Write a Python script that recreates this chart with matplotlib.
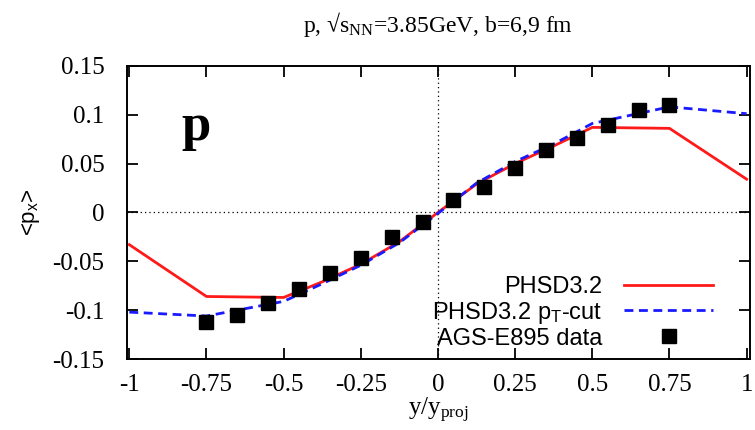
import matplotlib
matplotlib.use("Agg")
import matplotlib.pyplot as plt

# PHSD3.2 model curves (rapidity grid)
y_model = [-1.0, -0.75, -0.5, -0.375, -0.25, -0.125, 0.0, 0.125, 0.25, 0.375, 0.5, 0.75, 1.0]
px_phsd = [-0.033, -0.086, -0.087, -0.071, -0.053, -0.030, 0.000, 0.029, 0.050, 0.068, 0.087, 0.086, 0.034]
px_phsd_ptcut = [-0.102, -0.106, -0.091, -0.073, -0.054, -0.031, -0.001, 0.030, 0.052, 0.070, 0.091, 0.108, 0.101]

# AGS-E895 measured points
y_data = [-0.75, -0.65, -0.55, -0.45, -0.35, -0.25, -0.15, -0.05,
          0.05, 0.15, 0.25, 0.35, 0.45, 0.55, 0.65, 0.75]
px_data = [-0.112, -0.105, -0.093, -0.078, -0.062, -0.047, -0.025, -0.010,
           0.013, 0.026, 0.045, 0.064, 0.076, 0.089, 0.105, 0.110]

x_ticks = [-1, -0.75, -0.5, -0.25, 0, 0.25, 0.5, 0.75, 1]
x_ticklabels = ["-1", "-0.75", "-0.5", "-0.25", "0", "0.25", "0.5", "0.75", "1"]
y_ticks = [-0.15, -0.1, -0.05, 0, 0.05, 0.1, 0.15]
y_ticklabels = ["-0.15", "-0.1", "-0.05", "0", "0.05", "0.1", "0.15"]

SERIF = "Liberation Serif"
SANS = "Liberation Sans"

plt.rcParams["mathtext.fontset"] = "custom"
plt.rcParams["mathtext.rm"] = SERIF
plt.rcParams["mathtext.sf"] = SANS
plt.rcParams["mathtext.it"] = SERIF + ":italic"

fig = plt.figure(figsize=(7.55, 4.30), dpi=100)
ax = fig.add_axes([0.168, 0.165, 0.825, 0.682])

ax.axhline(0, color="black", lw=0.9, ls=(0, (1, 2.5)), zorder=1)
ax.axvline(0, color="black", lw=0.9, ls=(0, (1, 2.5)), zorder=1)

ax.plot(y_model, px_phsd, color="#ff1a1a", lw=2.0, zorder=2, label="PHSD3.2")
ax.plot(y_model, px_phsd_ptcut, color="#1a1aff", lw=2.0, dashes=(3.2, 2.0), zorder=3,
        label=r"PHSD3.2 p$_{\mathsf{T}}$-cut")
ax.plot(y_data, px_data, ls="none", marker="s", ms=9.5, color="black", zorder=4,
        label="AGS-E895 data")

ax.set_xlim(-1.008, 1.01)
ax.set_ylim(-0.15, 0.15)
ax.set_xticks(x_ticks)
ax.set_xticklabels(x_ticklabels, family=SERIF, fontsize=18)
ax.set_yticks(y_ticks)
ax.set_yticklabels(y_ticklabels, family=SERIF, fontsize=18)
ax.tick_params(direction="in", top=True, right=True, length=8, width=1.3)
ax.tick_params(axis="y", pad=16)
ax.tick_params(axis="x", pad=11)
for s in ax.spines.values():
    s.set_linewidth(1.4)

ax.set_xlabel(r"y/y$_{\mathrm{proj}}$", family=SERIF, fontsize=18, labelpad=0)
ax.set_ylabel(r"<p$_{\mathsf{x}}$>", family=SANS, fontsize=16, labelpad=8)

fig.text(0.58, 0.944, r"p, √s$_{\mathrm{NN}}$=3.85GeV, b=6,9 fm", family=SERIF,
         fontsize=17, ha="center", va="center")

ax.text(-0.83, 0.074, "p", family=SERIF, fontweight="bold", fontsize=38,
        ha="left", va="baseline")

leg = ax.legend(loc="lower right", markerfirst=False, frameon=False,
                prop={"family": SANS, "size": 17}, handlelength=3.8,
                handletextpad=0.9, labelspacing=0.08, borderaxespad=0.0,
                bbox_to_anchor=(0.957, 0.0), numpoints=1)

fig.savefig("out.png", dpi=100)
